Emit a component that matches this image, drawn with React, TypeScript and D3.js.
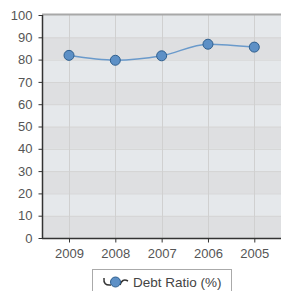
import React, { useEffect, useRef } from 'react';
import * as d3 from 'd3';

const years = ['2009', '2008', '2007', '2006', '2005'];
const debtRatio = [81.9, 79.7, 81.7, 86.9, 85.6];
const yTicks = [0, 10, 20, 30, 40, 50, 60, 70, 80, 90, 100];
const seriesName = 'Debt Ratio (%)';

const W = 281;
const H = 291;
const FONT = 'Liberation Sans, Arial, sans-serif';

export default function App() {
  const ref = useRef<SVGSVGElement>(null);

  useEffect(() => {
    if (!ref.current) return;
    const svg = d3.select(ref.current);
    svg.selectAll('*').remove();

    const left = 42, right = 281, top = 15, bottom = 238;

    const x = d3.scalePoint<string>().domain(years).range([69, 254.3]);
    const y = d3.scaleLinear().domain([0, 100]).range([bottom, top]);

    // alternating bands
    const bands = yTicks.slice(0, -1);
    svg.append('g')
      .selectAll('rect')
      .data(bands)
      .enter()
      .append('rect')
      .attr('x', left)
      .attr('y', d => y(d + 10))
      .attr('width', right - left)
      .attr('height', d => y(d) - y(d + 10))
      .attr('fill', d => ((d / 10) % 2 === 1 ? '#e5e8eb' : '#dedfe1'));

    // horizontal grid
    svg.append('g')
      .selectAll('line')
      .data(yTicks.slice(1, -1))
      .enter()
      .append('line')
      .attr('x1', left).attr('x2', right)
      .attr('y1', d => y(d) + 0.5).attr('y2', d => y(d) + 0.5)
      .attr('stroke', '#d3d3d3');

    // vertical grid
    svg.append('g')
      .selectAll('line')
      .data(years)
      .enter()
      .append('line')
      .attr('x1', d => Math.round(x(d)!) + 0.5).attr('x2', d => Math.round(x(d)!) + 0.5)
      .attr('y1', top).attr('y2', bottom)
      .attr('stroke', '#d0d0d0');

    // top border
    svg.append('line')
      .attr('x1', left).attr('x2', right)
      .attr('y1', top - 0.5).attr('y2', top - 0.5)
      .attr('stroke', '#a8a8a8').attr('stroke-width', 2);

    // y axis
    const yAxis = svg.append('g')
      .attr('transform', `translate(${left + 0.5},0)`)
      .call(d3.axisLeft(y).tickValues(yTicks).tickSize(4).tickPadding(6));
    yAxis.select('.domain').attr('stroke', '#333').attr('stroke-width', 1.5)
      .attr('d', `M0,${top}V${bottom}`);
    yAxis.selectAll('.tick line').attr('stroke', '#333');
    yAxis.selectAll('.tick text')
      .attr('fill', '#555').style('font-family', FONT).style('font-size', '13px');

    // x axis
    const xAxis = svg.append('g')
      .attr('transform', `translate(0,${bottom + 0.5})`)
      .call(d3.axisBottom(x).tickSize(4).tickPadding(6));
    xAxis.select('.domain').attr('stroke', '#333').attr('stroke-width', 1.5)
      .attr('d', `M${left},0H${right}`);
    xAxis.selectAll('.tick line').attr('stroke', '#333');
    xAxis.selectAll('.tick text')
      .attr('fill', '#555').style('font-family', FONT).style('font-size', '13px');

    // line
    const line = d3.line<number>()
      .x((_, i) => x(years[i])!)
      .y(d => y(d))
      .curve(d3.curveMonotoneX);

    svg.append('path')
      .datum(debtRatio)
      .attr('fill', 'none')
      .attr('stroke', '#6a9acb')
      .attr('stroke-width', 1.5)
      .attr('d', line);

    svg.append('g')
      .selectAll('circle')
      .data(debtRatio)
      .enter()
      .append('circle')
      .attr('cx', (_, i) => x(years[i])!)
      .attr('cy', d => y(d))
      .attr('r', 5)
      .attr('fill', '#5d90c6')
      .attr('stroke', '#2f5f8e')
      .attr('stroke-width', 1);

    // legend
    const lg = svg.append('g');
    lg.append('rect')
      .attr('x', 92.5).attr('y', 269.5)
      .attr('width', 139).attr('height', 30)
      .attr('fill', '#fff').attr('stroke', '#aaa');
    lg.append('path')
      .attr('d', 'M104,278 Q103,286 111,285 M120,285 Q122,278 128,281')
      .attr('fill', 'none').attr('stroke', '#333').attr('stroke-width', 1.5);
    lg.append('circle')
      .attr('cx', 115.5).attr('cy', 282).attr('r', 5)
      .attr('fill', '#5d90c6').attr('stroke', '#2f5f8e');
    lg.append('text')
      .attr('x', 133).attr('y', 287)
      .attr('fill', '#444')
      .style('font-family', FONT)
      .style('font-size', '13.5px')
      .text(seriesName);
  }, []);

  return (
    <svg ref={ref} width={W} height={H}
      style={{ position: 'absolute', left: 0, top: 0, background: '#fff' }} />
  );
}
